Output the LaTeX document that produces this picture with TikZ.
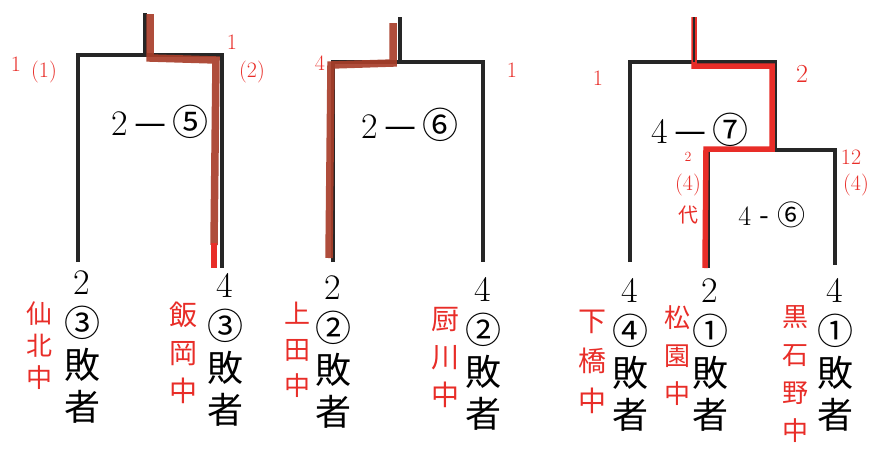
\documentclass[tikz,border=0pt]{standalone}
\usepackage{fontspec}
\newfontfamily\jp{Noto Sans CJK JP}
\definecolor{pen}{RGB}{232,45,40}
\definecolor{brown}{RGB}{168,62,42}
\begin{document}
\begin{tikzpicture}[x=1pt,y=-1pt,
  bline/.style={line width=3.2pt,black!85,line join=miter},
  bpath/.style={line width=7.5pt,brown,line join=miter,opacity=0.92},
  rpath/.style={line width=5.5pt,pen,line join=miter},
  col/.style={align=center,font=\fontsize{36}{42}\selectfont,inner sep=0pt,anchor=north},
  score/.style={font=\fontsize{36}{40}\selectfont,inner sep=0pt},
  hand/.style={align=center,text=pen,font=\jp\fontsize{26}{36}\selectfont,inner sep=0pt,anchor=north},
  rmark/.style={text=pen,font=\fontsize{22}{24}\selectfont,inner sep=0pt}]
\useasboundingbox (0,0) rectangle (869,459);
% ---------- bracket 1 ----------
\coordinate (a1) at (78,262); \coordinate (a2) at (78,55);
\coordinate (a3) at (222,55); \coordinate (a4) at (222,268);
\coordinate (as) at (145,13); \coordinate (am) at (145,55);
\draw[bline] (a1) -- (a2) -- (a3) -- (a4);
\draw[bline] (as) -- (am);
\draw[bpath] (150,14) -- (150,58) -- (216,60) -- (214,245);
\draw[rpath] (214,243) -- (214,268);
\node[score] (s1) at (160,122) {2\,{\jp —}\,{\jp ⑤}};
% ---------- bracket 2 ----------
\coordinate (b1) at (333,262); \coordinate (b2) at (333,62);
\coordinate (b3) at (483,62); \coordinate (b4) at (483,262);
\coordinate (bs) at (400,17); \coordinate (bm) at (400,62);
\draw[bline] (b1) -- (b2) -- (b3) -- (b4);
\draw[bline] (bs) -- (bm);
\draw[bpath] (393,23) -- (393,63) -- (331,65) -- (329,258);
\node[score] (s2) at (410,125) {2\,{\jp —}\,{\jp ⑥}};
% ---------- bracket 3 ----------
\coordinate (c1) at (630,262); \coordinate (c2) at (630,62);
\coordinate (c3) at (775,62); \coordinate (c4) at (775,150);
\coordinate (cs) at (694,17); \coordinate (cm) at (694,62);
\coordinate (d1) at (708,268); \coordinate (d2) at (708,150);
\coordinate (d3) at (835,150); \coordinate (d4) at (835,265);
\draw[bline] (c1) -- (c2) -- (c3) -- (c4);
\draw[bline] (d1) -- (d2) -- (d3) -- (d4);
\draw[rpath] (cs) -- (694,66) -- (772,66) -- (772,149) -- (706,149) -- (705,268);
\draw[bline,line width=2.4pt] (cs) -- (cm);
\node[score] (s3) at (700,130) {4\,{\jp —}\,{\jp ⑦}};
\node[score,font=\fontsize{28}{30}\selectfont] (s4) at (772,215) {4 {\jp -} {\jp ⑥}};
% ---------- bottom columns ----------
\node[col] (n1) at (82,270) {2\\{\jp ③}\\{\jp 敗}\\{\jp 者}};
\node[col] (n2) at (225,273) {4\\{\jp ③}\\{\jp 敗}\\{\jp 者}};
\node[col] (n3) at (333,275) {2\\{\jp ②}\\{\jp 敗}\\{\jp 者}};
\node[col] (n4) at (483,277) {4\\{\jp ②}\\{\jp 敗}\\{\jp 者}};
\node[col] (n5) at (630,278) {4\\{\jp ④}\\{\jp 敗}\\{\jp 者}};
\node[col] (n6) at (710,278) {2\\{\jp ①}\\{\jp 敗}\\{\jp 者}};
\node[col] (n7) at (835,278) {4\\{\jp ①}\\{\jp 敗}\\{\jp 者}};
% ---------- handwritten school names ----------
\node[hand,font=\jp\fontsize{26}{32}\selectfont] (h1) at (40,302) {仙\\北\\中};
\node[hand,font=\jp\fontsize{28}{38}\selectfont] (h2) at (183,302) {飯\\岡\\中};
\node[hand,font=\jp\fontsize{26}{36}\selectfont] (h3) at (297,302) {上\\田\\中};
\node[hand,font=\jp\fontsize{28}{38}\selectfont] (h4) at (445,307) {厨\\川\\中};
\node[hand,font=\jp\fontsize{28}{40}\selectfont] (h5) at (592,310) {下\\橋\\中};
\node[hand,font=\jp\fontsize{26}{38}\selectfont] (h6) at (677,305) {松\\園\\中};
\node[hand,font=\jp\fontsize{26}{38}\selectfont] (h7) at (795,305) {黒\\石\\野\\中};
% ---------- small red marks ----------
\node[rmark] (m1) at (16,64) {1};
\node[rmark] (m2) at (44,72) {(1)};
\node[rmark] (m3) at (232,42) {1};
\node[rmark] (m4) at (252,72) {(2)};
\node[rmark] (m5) at (320,63) {4};
\node[rmark] (m6) at (512,70) {1};
\node[rmark] (m7) at (598,78) {1};
\node[rmark,font=\fontsize{26}{28}\selectfont] (m8) at (802,74) {2};
\node[rmark,font=\fontsize{14}{16}\selectfont] (m9) at (688,157) {2};
\node[rmark] (m10) at (688,185) {(4)};
\node[rmark,font=\jp\fontsize{20}{22}\selectfont] (m11) at (688,215) {代};
\node[rmark] (m12) at (851,157) {12};
\node[rmark,anchor=east] (m13) at (869,185) {(4)};
\end{tikzpicture}
\end{document}
